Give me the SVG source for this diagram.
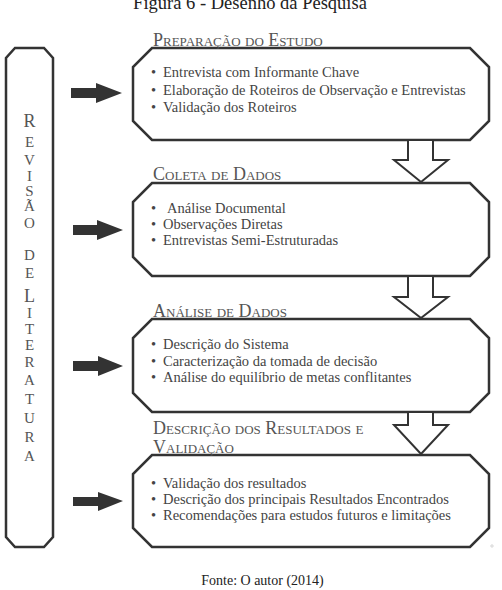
<svg xmlns="http://www.w3.org/2000/svg" width="502" height="590" viewBox="0 0 502 590">
<style>
.t{font-family:"Liberation Serif","Times New Roman",serif;fill:#444}
.title{font-size:18.5px;fill:#222}
.hd{font-size:18px;font-variant:small-caps;fill:#555}
.li{font-size:14.5px}
.big{font-size:18px;fill:#555}
.sm{font-size:15px;fill:#555}
.box{fill:#fff;stroke:#333;stroke-width:2.5;stroke-linejoin:miter}
.hollow{fill:#fff;stroke:#333;stroke-width:2}
.solid{fill:#333}
</style>
<rect width="502" height="590" fill="#fff"/>
<text class="t title" x="250" y="9" text-anchor="middle">Figura 6 - Desenho da Pesquisa</text>

<g id="revisao">
<path class="box" d="M15,48 L44,48 L53,58 L53,537 L44,547 L15,547 L6,537 L6,58 Z"/>
<g text-anchor="middle">
<text class="t big" x="29.5" y="127">R</text>
<text class="t sm" x="29.5" y="147">E</text>
<text class="t sm" x="29.5" y="165">V</text>
<text class="t sm" x="29.5" y="181">I</text>
<text class="t sm" x="29.5" y="196">S</text>
<text class="t sm" x="29.5" y="211">Ã</text>
<text class="t sm" x="29.5" y="228">O</text>
<text class="t sm" x="29.5" y="260">D</text>
<text class="t sm" x="29.5" y="278">E</text>
<text class="t big" x="29.5" y="302">L</text>
<text class="t sm" x="29.5" y="318">I</text>
<text class="t sm" x="29.5" y="334">T</text>
<text class="t sm" x="29.5" y="350">E</text>
<text class="t sm" x="29.5" y="367">R</text>
<text class="t sm" x="29.5" y="385">A</text>
<text class="t sm" x="29.5" y="404">T</text>
<text class="t sm" x="29.5" y="423">U</text>
<text class="t sm" x="29.5" y="442">R</text>
<text class="t sm" x="29.5" y="461">A</text>
</g>
</g>

<g id="preparacao">
<path class="box" d="M152,48 L470,48 L489,67 L489,121 L470,140 L152,140 L133,121 L133,67 Z"/>
<text class="t hd" x="153" y="46">Preparação do Estudo</text>
<text class="t li" x="151" y="77">•</text><text class="t li" x="163" y="77">Entrevista com Informante Chave</text>
<text class="t li" x="151" y="95">•</text><text class="t li" x="163" y="95">Elaboração de Roteiros de Observação e Entrevistas</text>
<text class="t li" x="151" y="112">•</text><text class="t li" x="163" y="112">Validação dos Roteiros</text>
</g>

<g id="coleta">
<path class="box" d="M152,183 L470,183 L489,202 L489,257 L470,276 L152,276 L133,257 L133,202 Z"/>
<text class="t hd" x="153" y="180">Coleta de Dados</text>
<text class="t li" x="151" y="213">•</text><text class="t li" x="167" y="213">Análise Documental</text>
<text class="t li" x="151" y="229">•</text><text class="t li" x="163" y="229">Observações Diretas</text>
<text class="t li" x="151" y="245">•</text><text class="t li" x="163" y="245">Entrevistas Semi-Estruturadas</text>
</g>

<g id="analise">
<path class="box" d="M152,319 L470,319 L489,338 L489,393 L470,412 L152,412 L133,393 L133,338 Z"/>
<text class="t hd" x="153" y="317">Análise de Dados</text>
<text class="t li" x="151" y="349">•</text><text class="t li" x="163" y="349">Descrição do Sistema</text>
<text class="t li" x="151" y="366">•</text><text class="t li" x="163" y="366">Caracterização da tomada de decisão</text>
<text class="t li" x="151" y="382">•</text><text class="t li" x="163" y="382">Análise do equilíbrio de metas conflitantes</text>
</g>

<g id="descricao">
<path class="box" d="M152,455 L470,455 L489,474 L489,528 L470,547 L152,547 L133,528 L133,474 Z"/>
<text class="t hd" x="153" y="434">Descrição dos Resultados e</text>
<text class="t hd" x="153" y="453">Validação</text>
<text class="t li" x="151" y="488">•</text><text class="t li" x="163" y="488">Validação dos resultados</text>
<text class="t li" x="151" y="504">•</text><text class="t li" x="163" y="504">Descrição dos principais Resultados Encontrados</text>
<text class="t li" x="151" y="520">•</text><text class="t li" x="163" y="520">Recomendações para estudos futuros e limitações</text>
<circle cx="492" cy="546" r="1.2" fill="none" stroke="#bbb" stroke-width="0.6"/>
</g>

<g id="connectors">
<path class="hollow" d="M408,141 L408,160 L394,160 L421,182 L448,160 L433,160 L433,141"/>
<path class="hollow" d="M408,277 L408,297 L394,297 L421,318 L448,297 L433,297 L433,277"/>
<path class="hollow" d="M408,413 L408,425 L394,425 L421,454 L448,425 L433,425 L433,413"/>
<path class="solid" d="M71,88 L96,88 L96,83 L122,93 L96,103 L96,98 L71,98 Z"/>
<path class="solid" d="M73,225 L97,225 L97,220 L123,230 L97,240 L97,235 L73,235 Z"/>
<path class="solid" d="M73,361 L98,361 L98,356 L123,366 L98,376 L98,371 L73,371 Z"/>
<path class="solid" d="M73,497 L98,497 L98,492 L123,501 L98,511 L98,506 L73,506 Z"/>
</g>

<text class="t" x="262.5" y="585" text-anchor="middle" style="font-size:14px;fill:#222">Fonte: O autor (2014)</text>
</svg>
